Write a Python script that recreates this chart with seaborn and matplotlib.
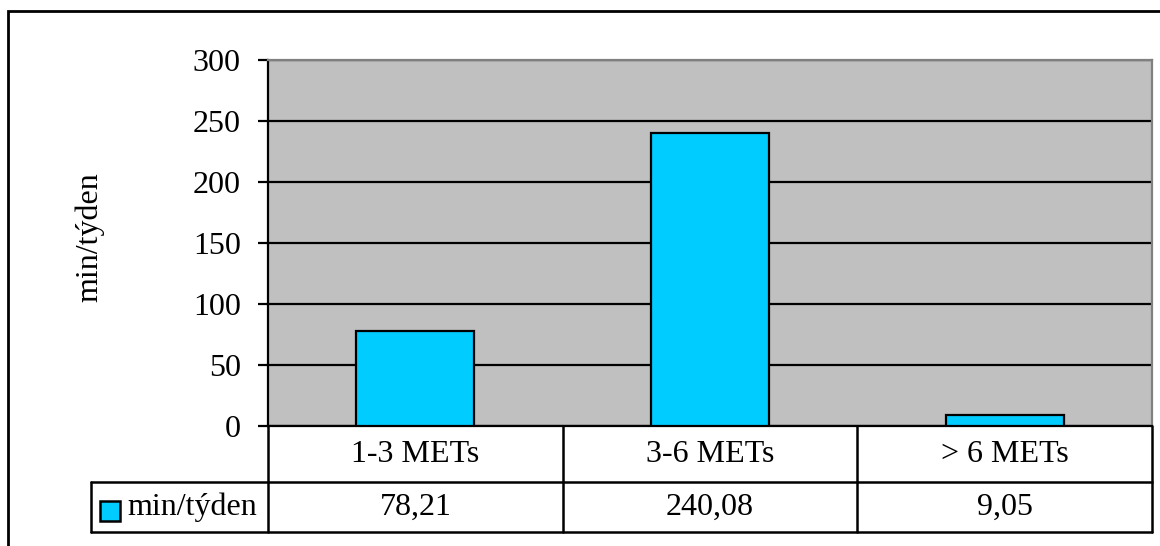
import matplotlib
matplotlib.use("Agg")
import matplotlib.pyplot as plt
import matplotlib.transforms as mtransforms
from matplotlib.patches import Rectangle
from matplotlib.lines import Line2D
import seaborn as sns
import pandas as pd

categories = ["1-3 METs", "3-6 METs", "> 6 METs"]
values = [78.21, 240.08, 9.05]
series_name = "min/týden"
y_ticks = [0, 50, 100, 150, 200, 250, 300]

sns.set_theme(style="white")
plt.rcParams["font.family"] = ["Liberation Serif", "DejaVu Serif"]
plt.rcParams["text.color"] = "black"
plt.rcParams["ytick.color"] = "black"
plt.rcParams["axes.labelcolor"] = "black"

FS = 23
W, H = 1160, 546
fig = plt.figure(figsize=(W / 100, H / 100), dpi=100)
fig.patch.set_facecolor("white")

def fx(px):
    return px / W

def fy(py):
    return 1 - py / H

# plot area
left, right, top, bottom = 268, 1152, 60, 426
ax = fig.add_axes([fx(left), fy(bottom), fx(right - left), (bottom - top) / H])
ax.set_facecolor("#C0C0C0")

df = pd.DataFrame({"cat": categories, "val": values})
sns.barplot(data=df, x="cat", y="val", color="#00CCFF", saturation=1,
            width=0.4, edgecolor="black", linewidth=1.6, ax=ax, zorder=3)

ax.set_xlim(-0.5, len(categories) - 0.5)
ax.set_ylim(0, 300)
ax.set_yticks(y_ticks)
ax.set_yticklabels([str(t) for t in y_ticks], fontsize=FS, color="black")
ax.set_xticks([])
ax.set_xlabel("")
ax.set_ylabel("")
ax.yaxis.grid(True, color="black", linewidth=1.6, zorder=1)
ax.set_axisbelow(True)
ax.tick_params(axis="y", direction="out", length=7.5, width=1.6, color="black",
               left=True, pad=12)
for name in ["top", "right"]:
    ax.spines[name].set_color("#808080")
    ax.spines[name].set_linewidth(1.6)
ax.spines["left"].set_color("black")
ax.spines["left"].set_linewidth(1.6)
ax.spines["bottom"].set_color("black")
ax.spines["bottom"].set_linewidth(1.6)

# value axis title
fig.text(fx(90), fy(237), series_name, rotation=90, ha="center", va="center",
         fontsize=FS, color="black")

# data table under the axis
lw = 1.8
row1_bottom, row2_bottom = 482, 532
legend_left = 91
col_edges = [268, 563, 857, 1152]
lines = []
lines.append(([fx(legend_left), fx(right)], [fy(row1_bottom)] * 2))
lines.append(([fx(legend_left), fx(right)], [fy(row2_bottom)] * 2))
lines.append(([fx(legend_left)] * 2, [fy(row1_bottom), fy(row2_bottom)]))
for cx in col_edges:
    lines.append(([fx(cx)] * 2, [fy(bottom), fy(row2_bottom)]))
for xs, ys in lines:
    fig.add_artist(Line2D(xs, ys, color="black", linewidth=lw,
                          transform=fig.transFigure))

blend = mtransforms.blended_transform_factory(ax.transData, fig.transFigure)
for i, (c, v) in enumerate(zip(categories, values)):
    ax.text(i, fy((bottom + row1_bottom) / 2), c, transform=blend,
            ha="center", va="center", fontsize=FS, color="black", clip_on=False)
    ax.text(i, fy((row1_bottom + row2_bottom) / 2),
            f"{v:.2f}".replace(".", ","), transform=blend,
            ha="center", va="center", fontsize=FS, color="black", clip_on=False)

# legend key in the table
fig.add_artist(Rectangle((fx(100), fy(521)), fx(20), 20 / H,
                         facecolor="#00CCFF", edgecolor="black", linewidth=1.8,
                         transform=fig.transFigure))
fig.text(fx(127), fy((row1_bottom + row2_bottom) / 2), series_name,
         ha="left", va="center", fontsize=FS, color="black")

# chart border
fig.add_artist(Rectangle((fx(8), fy(560)), fx(1165), 549 / H, fill=False,
                         edgecolor="black", linewidth=2,
                         transform=fig.transFigure))

fig.savefig("out.png", dpi=100)
